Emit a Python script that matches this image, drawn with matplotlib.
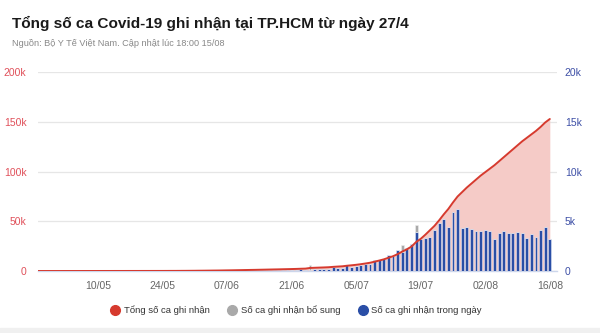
import numpy as np
import pandas as pd
import matplotlib
matplotlib.use('Agg')
import matplotlib.pyplot as plt
import matplotlib.dates as mdates
from matplotlib.lines import Line2D
from matplotlib.ticker import FuncFormatter, FixedLocator

plt.rcParams['font.family'] = ['Liberation Sans', 'DejaVu Sans']

# Daily series for HCMC, starting 27/04
start_date = '2021-04-27'

# New cases reported each day
new_cases = [
    0, 0, 0, 0, 0, 0, 0, 0, 0, 0, 0, 0, 0, 0,
    0, 0, 0, 0, 0, 0, 0, 0, 0, 0, 0, 0, 0, 0,
    10, 20, 10, 30, 20, 40, 30, 50, 40, 50, 60, 50, 70,
    80, 70, 90, 80, 100, 90, 80, 100, 90, 110, 100, 90, 120, 100, 110, 130,
    170, 130, 100, 200, 170, 170, 200, 370, 300, 270,
    570, 440, 500, 600, 700, 750, 1080, 1150, 1200, 1600, 1560, 2100, 1930, 2300, 2700, 3960, 3200,
    3300, 3400, 4100, 4800, 5200, 4400, 5900, 6200, 4370, 4400, 4200, 4060, 4000, 4100,
    4060, 3200, 3860, 4000, 3800, 3860, 3930, 3800, 3300, 3750, 3400, 4100, 4400, 3250,
]

# Additional cases added later to a given day
extra_cases = [0] * 112
extra_cases[59] = 550
extra_cases[79] = 640
extra_cases[82] = 640

# Running total of recorded cases
total_cases = [
    0, 0, 0, 0, 0, 0, 10, 10, 10, 10, 20, 20, 20, 20,
    30, 30, 30, 40, 40, 40, 50, 50, 50, 60, 60, 70, 70, 80,
    90, 110, 120, 150, 170, 210, 240, 290, 330, 380, 440, 490, 560,
    640, 710, 800, 880, 980, 1070, 1150, 1250, 1340, 1450, 1550, 1640, 1760, 1860, 1970, 2100, 2270, 2400,
    3050, 3250, 3420, 3590, 3790, 4160, 4460, 4730,
    5300, 5740, 6240, 6840, 7540, 8290, 9370, 10520, 11720, 13320, 14880, 16980, 19550, 21850, 24550, 29150, 32350,
    36500, 41000, 45500, 51000, 57000, 62500, 69000, 75000, 79500, 84000, 88000, 92000, 96000, 99500,
    103000, 106500, 110500, 114500, 118500, 122500, 126500, 130500, 134000, 137500, 141000, 145000, 149500, 153000,
]

tick_labels = ['10/05', '24/05', '07/06', '21/06', '05/07', '19/07', '02/08', '16/08']

dates = pd.date_range(start_date, periods=len(total_cases))
df = pd.DataFrame({'new': new_cases, 'extra': extra_cases, 'total': total_cases}, index=dates)
xnum = mdates.date2num(df.index.to_pydatetime())

RED = '#d63a2e'
FILL = '#f5cbc7'
BLUE = '#2a4ea6'
GRAY = '#a9a9a9'

fig = plt.figure(figsize=(6, 3.33), dpi=100)
ax = fig.add_axes([37.5 / 600, 62 / 333, 519 / 600, 198.7 / 333])
ax_bar = ax.twinx()
ax_line = ax.twinx()

# cumulative area on the left scale
ax.fill_between(xnum, 0, df['total'], color=FILL, lw=0)
ax.set_ylim(0, 200000)
ax.yaxis.set_major_locator(FixedLocator([0, 50000, 100000, 150000, 200000]))
ax.yaxis.set_major_formatter(FuncFormatter(lambda v, p: '0' if v == 0 else f'{int(v / 1000)}k'))
ax.grid(axis='y', color='#e6e6e6', lw=0.9)
ax.set_axisbelow(True)

# daily columns on the right scale
ax_bar.bar(xnum, df['new'], width=0.62, color=BLUE, edgecolor='#dfe6f5', linewidth=0.4)
ax_bar.bar(xnum, df['extra'], bottom=df['new'], width=0.62, color=GRAY, edgecolor='#eeeeee', linewidth=0.4)
ax_bar.set_ylim(0, 20000)
ax_bar.yaxis.set_major_locator(FixedLocator([0, 5000, 10000, 15000, 20000]))
ax_bar.yaxis.set_major_formatter(FuncFormatter(lambda v, p: '0' if v == 0 else f'{int(v / 1000)}k'))

# total line drawn above the columns
ax_line.plot(xnum, df['total'], color=RED, lw=1.4, solid_capstyle='round')
ax_line.set_ylim(0, 200000)
ax_line.set_yticks([])

x0 = xnum[0]
for a in (ax, ax_bar, ax_line):
    a.set_xlim(x0 - 0.1, x0 + 112.45)
    for s in a.spines.values():
        s.set_visible(False)
ax.spines['bottom'].set_visible(True)
ax.spines['bottom'].set_color('#ccd6eb')
ax.spines['bottom'].set_linewidth(1)

tick_dates = [pd.Timestamp(f'2021-{lbl[3:]}-{lbl[:2]}') for lbl in tick_labels]
ax.set_xticks(mdates.date2num([d.to_pydatetime() for d in tick_dates]))
ax.set_xticklabels(tick_labels)
ax.tick_params(axis='x', length=0, pad=7, labelsize=7.5, labelcolor='#666666')
ax.tick_params(axis='y', length=0, pad=8, labelsize=7.5, labelcolor='#e0505a')
ax_bar.tick_params(axis='y', length=0, pad=6, labelsize=7.5, labelcolor='#3d4fa6')

fig.text(12 / 600, 1 - 28.3 / 333, 'Tổng số ca Covid-19 ghi nhận tại TP.HCM từ ngày 27/4',
         fontsize=11.1, fontweight='bold', color='#1a1a1a', va='baseline')
fig.text(12 / 600, 1 - 46.5 / 333, 'Nguồn: Bộ Y Tế Việt Nam. Cập nhật lúc 18:00 15/08',
         fontsize=6.6, color='#888888', va='baseline')

handles = [
    Line2D([], [], ls='', marker='o', ms=7, color=RED, label='Tổng số ca ghi nhận'),
    Line2D([], [], ls='', marker='o', ms=7, color=GRAY, label='Số ca ghi nhận bổ sung'),
    Line2D([], [], ls='', marker='o', ms=7, color=BLUE, label='Số ca ghi nhận trong ngày'),
]
fig.legend(handles=handles, loc='center', bbox_to_anchor=(296 / 600, 1 - 310 / 333), ncol=3,
           frameon=False, fontsize=6.8, handlelength=1.0, handletextpad=0.4,
           columnspacing=1.9, labelcolor='#333333')

# light strip along the bottom edge
fig.patches.append(plt.Rectangle((0, 0), 1, 5 / 333, transform=fig.transFigure,
                                 color='#f0f0f0', zorder=0))

fig.savefig('out.png', dpi=100)
